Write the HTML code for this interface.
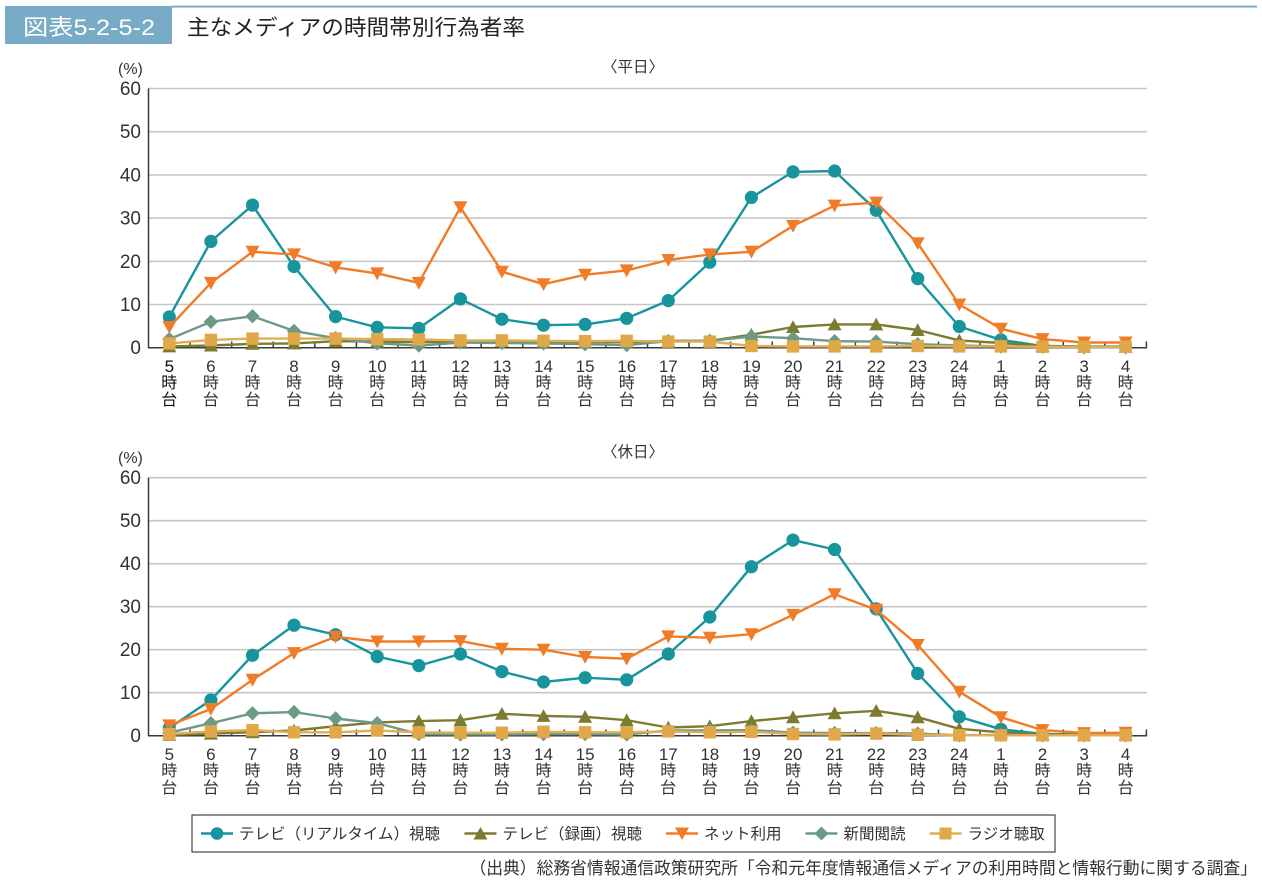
<!DOCTYPE html>
<html>
<head>
<meta charset="utf-8">
<style>
html,body{margin:0;padding:0;background:#fff;}
svg{display:block;}
text{font-family:"Liberation Sans","Noto Sans CJK JP",sans-serif;fill:#333;}
.yl{font-size:19px;text-anchor:end;}
.xl{font-size:17px;text-anchor:middle;}
.xl tspan.k{font-size:16px;}
.grid line{stroke:#c6c6c6;stroke-width:1.6;}
.ax{stroke:#3a3a3a;stroke-width:1.5;fill:none;}
.s{fill:none;stroke-width:2.4;stroke-linejoin:round;}
.tv{stroke:#17949c;marker-start:url(#mc);marker-mid:url(#mc);marker-end:url(#mc);}
.rec{stroke:#7d7b2f;marker-start:url(#mt);marker-mid:url(#mt);marker-end:url(#mt);}
.net{stroke:#f07c28;marker-start:url(#md);marker-mid:url(#md);marker-end:url(#md);}
.np{stroke:#6c9a84;marker-start:url(#mdi);marker-mid:url(#mdi);marker-end:url(#mdi);}
.rad{stroke:#e1ad55;marker-start:url(#ms);marker-mid:url(#ms);marker-end:url(#ms);}
.lg{font-size:15.5px;}
</style>
</head>
<body>
<svg width="1262" height="884" viewBox="0 0 1262 884" xmlns="http://www.w3.org/2000/svg">
<defs>
<marker id="mc" markerUnits="userSpaceOnUse" viewBox="-10 -10 20 20" markerWidth="20" markerHeight="20" refX="0" refY="0" overflow="visible"><circle cx="0" cy="0" r="6.6" fill="#17949c"/></marker>
<marker id="mt" markerUnits="userSpaceOnUse" viewBox="-10 -10 20 20" markerWidth="20" markerHeight="20" refX="0" refY="0" overflow="visible"><polygon points="0,-6.8 7,6 -7,6" fill="#7d7b2f"/></marker>
<marker id="md" markerUnits="userSpaceOnUse" viewBox="-10 -10 20 20" markerWidth="20" markerHeight="20" refX="0" refY="0" overflow="visible"><polygon points="0,6.8 7,-6 -7,-6" fill="#f07c28"/></marker>
<marker id="mdi" markerUnits="userSpaceOnUse" viewBox="-10 -10 20 20" markerWidth="20" markerHeight="20" refX="0" refY="0" overflow="visible"><polygon points="0,-7.2 7.2,0 0,7.2 -7.2,0" fill="#6c9a84"/></marker>
<marker id="ms" markerUnits="userSpaceOnUse" viewBox="-10 -10 20 20" markerWidth="20" markerHeight="20" refX="0" refY="0" overflow="visible"><rect x="-6.2" y="-6.2" width="12.4" height="12.4" fill="#e0a848"/></marker>
</defs>

<!-- Header -->
<rect x="5" y="6" width="167" height="38" fill="#78abc6"/>
<rect x="172" y="5.6" width="1085" height="2" fill="#7aaecb"/>
<text x="23" y="35" font-size="22" style="fill:#fff" textLength="132" lengthAdjust="spacingAndGlyphs">図表5-2-5-2</text>
<text x="187" y="35" font-size="21.5" style="fill:#222" textLength="338" lengthAdjust="spacingAndGlyphs">主なメディアの時間帯別行為者率</text>

<!-- ===== TOP CHART ===== -->
<text x="118" y="74" font-size="16">(%)</text>
<text x="633" y="72" font-size="15.5" text-anchor="middle">〈平日〉</text>
<g class="grid">
<line x1="148" y1="88.5" x2="1147" y2="88.5"/>
<line x1="148" y1="131.7" x2="1147" y2="131.7"/>
<line x1="148" y1="174.9" x2="1147" y2="174.9"/>
<line x1="148" y1="218.1" x2="1147" y2="218.1"/>
<line x1="148" y1="261.3" x2="1147" y2="261.3"/>
<line x1="148" y1="304.5" x2="1147" y2="304.5"/>
</g>
<g>
<text class="yl" x="141" y="95">60</text>
<text class="yl" x="141" y="138.2">50</text>
<text class="yl" x="141" y="181.4">40</text>
<text class="yl" x="141" y="224.6">30</text>
<text class="yl" x="141" y="267.8">20</text>
<text class="yl" x="141" y="311">10</text>
<text class="yl" x="141" y="354.2">0</text>
</g>
<path class="ax" d="M148.5,88.5 V348 M148,347.7 H1147"/>
<path class="ax" d="M190.1,341.5V348 M231.7,341.5V348 M273.2,341.5V348 M314.8,341.5V348 M356.4,341.5V348 M398,341.5V348 M439.6,341.5V348 M481.1,341.5V348 M522.7,341.5V348 M564.3,341.5V348 M605.9,341.5V348 M647.5,341.5V348 M689,341.5V348 M730.6,341.5V348 M772.2,341.5V348 M813.8,341.5V348 M855.4,341.5V348 M896.9,341.5V348 M938.5,341.5V348 M980.1,341.5V348 M1021.7,341.5V348 M1063.3,341.5V348 M1104.8,341.5V348 M1146.4,341.5V348"/>

<polyline class="s tv" points="169.3,317.0 210.9,241.4 252.5,205.1 294.0,266.5 335.6,316.6 377.2,327.4 418.8,328.3 460.4,298.9 501.9,319.2 543.5,325.2 585.1,324.4 626.7,318.3 668.3,300.6 709.8,262.2 751.4,197.4 793.0,171.9 834.6,171.0 876.2,210.3 917.7,278.6 959.3,326.5 1000.9,339.9 1042.5,346.0 1084.1,346.4 1125.6,346.4"/>
<polyline class="s rec" points="169.3,346.4 210.9,345.5 252.5,343.8 294.0,343.4 335.6,341.2 377.2,341.6 418.8,342.1 460.4,341.6 501.9,341.2 543.5,341.6 585.1,342.1 626.7,342.1 668.3,340.8 709.8,340.8 751.4,334.7 793.0,327.0 834.6,324.4 876.2,324.4 917.7,330.0 959.3,340.4 1000.9,343.0 1042.5,346.0 1084.1,346.8 1125.6,346.8"/>
<polyline class="s net" points="169.3,327.0 210.9,282.9 252.5,251.8 294.0,254.4 335.6,267.4 377.2,273.4 418.8,282.9 460.4,207.3 501.9,271.7 543.5,284.2 585.1,274.7 626.7,270.4 668.3,260.0 709.8,254.4 751.4,251.8 793.0,225.9 834.6,205.6 876.2,202.6 917.7,243.2 959.3,304.5 1000.9,328.7 1042.5,339.1 1084.1,342.5 1125.6,342.5"/>
<polyline class="s np" points="169.3,339.1 210.9,321.8 252.5,316.2 294.0,330.9 335.6,338.2 377.2,343.4 418.8,345.5 460.4,342.5 501.9,343.0 543.5,343.4 585.1,344.2 626.7,345.1 668.3,341.2 709.8,340.8 751.4,336.5 793.0,338.2 834.6,341.2 876.2,341.6 917.7,344.2 959.3,345.5 1000.9,346.4 1042.5,346.8 1084.1,347.3 1125.6,347.3"/>
<polyline class="s rad" points="169.3,343.4 210.9,339.9 252.5,338.6 294.0,338.6 335.6,338.6 377.2,339.1 418.8,339.5 460.4,340.4 501.9,340.4 543.5,340.8 585.1,341.2 626.7,340.8 668.3,341.6 709.8,341.6 751.4,346.0 793.0,346.4 834.6,346.4 876.2,346.4 917.7,346.0 959.3,346.4 1000.9,346.4 1042.5,346.8 1084.1,346.8 1125.6,346.8"/>

<g>
<text class="xl" x="169.3" y="372" style="fill:#111">5<tspan class="k" x="169.3" y="388">時</tspan><tspan class="k" x="169.3" y="405">台</tspan></text>
<text class="xl" x="210.9" y="372">6<tspan class="k" x="210.9" y="388">時</tspan><tspan class="k" x="210.9" y="405">台</tspan></text>
<text class="xl" x="252.5" y="372">7<tspan class="k" x="252.5" y="388">時</tspan><tspan class="k" x="252.5" y="405">台</tspan></text>
<text class="xl" x="294.0" y="372">8<tspan class="k" x="294.0" y="388">時</tspan><tspan class="k" x="294.0" y="405">台</tspan></text>
<text class="xl" x="335.6" y="372">9<tspan class="k" x="335.6" y="388">時</tspan><tspan class="k" x="335.6" y="405">台</tspan></text>
<text class="xl" x="377.2" y="372">10<tspan class="k" x="377.2" y="388">時</tspan><tspan class="k" x="377.2" y="405">台</tspan></text>
<text class="xl" x="418.8" y="372">11<tspan class="k" x="418.8" y="388">時</tspan><tspan class="k" x="418.8" y="405">台</tspan></text>
<text class="xl" x="460.4" y="372">12<tspan class="k" x="460.4" y="388">時</tspan><tspan class="k" x="460.4" y="405">台</tspan></text>
<text class="xl" x="501.9" y="372">13<tspan class="k" x="501.9" y="388">時</tspan><tspan class="k" x="501.9" y="405">台</tspan></text>
<text class="xl" x="543.5" y="372">14<tspan class="k" x="543.5" y="388">時</tspan><tspan class="k" x="543.5" y="405">台</tspan></text>
<text class="xl" x="585.1" y="372">15<tspan class="k" x="585.1" y="388">時</tspan><tspan class="k" x="585.1" y="405">台</tspan></text>
<text class="xl" x="626.7" y="372">16<tspan class="k" x="626.7" y="388">時</tspan><tspan class="k" x="626.7" y="405">台</tspan></text>
<text class="xl" x="668.3" y="372">17<tspan class="k" x="668.3" y="388">時</tspan><tspan class="k" x="668.3" y="405">台</tspan></text>
<text class="xl" x="709.8" y="372">18<tspan class="k" x="709.8" y="388">時</tspan><tspan class="k" x="709.8" y="405">台</tspan></text>
<text class="xl" x="751.4" y="372">19<tspan class="k" x="751.4" y="388">時</tspan><tspan class="k" x="751.4" y="405">台</tspan></text>
<text class="xl" x="793.0" y="372">20<tspan class="k" x="793.0" y="388">時</tspan><tspan class="k" x="793.0" y="405">台</tspan></text>
<text class="xl" x="834.6" y="372">21<tspan class="k" x="834.6" y="388">時</tspan><tspan class="k" x="834.6" y="405">台</tspan></text>
<text class="xl" x="876.2" y="372">22<tspan class="k" x="876.2" y="388">時</tspan><tspan class="k" x="876.2" y="405">台</tspan></text>
<text class="xl" x="917.7" y="372">23<tspan class="k" x="917.7" y="388">時</tspan><tspan class="k" x="917.7" y="405">台</tspan></text>
<text class="xl" x="959.3" y="372">24<tspan class="k" x="959.3" y="388">時</tspan><tspan class="k" x="959.3" y="405">台</tspan></text>
<text class="xl" x="1000.9" y="372">1<tspan class="k" x="1000.9" y="388">時</tspan><tspan class="k" x="1000.9" y="405">台</tspan></text>
<text class="xl" x="1042.5" y="372">2<tspan class="k" x="1042.5" y="388">時</tspan><tspan class="k" x="1042.5" y="405">台</tspan></text>
<text class="xl" x="1084.1" y="372">3<tspan class="k" x="1084.1" y="388">時</tspan><tspan class="k" x="1084.1" y="405">台</tspan></text>
<text class="xl" x="1125.6" y="372">4<tspan class="k" x="1125.6" y="388">時</tspan><tspan class="k" x="1125.6" y="405">台</tspan></text>
</g>

<!-- ===== BOTTOM CHART ===== -->
<text x="118" y="463" font-size="16">(%)</text>
<text x="633" y="457" font-size="15.5" text-anchor="middle">〈休日〉</text>
<g class="grid">
<line x1="148" y1="477.7" x2="1147" y2="477.7"/>
<line x1="148" y1="520.7" x2="1147" y2="520.7"/>
<line x1="148" y1="563.7" x2="1147" y2="563.7"/>
<line x1="148" y1="606.7" x2="1147" y2="606.7"/>
<line x1="148" y1="649.7" x2="1147" y2="649.7"/>
<line x1="148" y1="692.7" x2="1147" y2="692.7"/>
</g>
<g>
<text class="yl" x="141" y="484.2">60</text>
<text class="yl" x="141" y="527.2">50</text>
<text class="yl" x="141" y="570.2">40</text>
<text class="yl" x="141" y="613.2">30</text>
<text class="yl" x="141" y="656.2">20</text>
<text class="yl" x="141" y="699.2">10</text>
<text class="yl" x="141" y="742.2">0</text>
</g>
<path class="ax" d="M148.5,477.7 V736 M148,735.7 H1147"/>
<path class="ax" d="M190.1,729.5V736 M231.7,729.5V736 M273.2,729.5V736 M314.8,729.5V736 M356.4,729.5V736 M398,729.5V736 M439.6,729.5V736 M481.1,729.5V736 M522.7,729.5V736 M564.3,729.5V736 M605.9,729.5V736 M647.5,729.5V736 M689,729.5V736 M730.6,729.5V736 M772.2,729.5V736 M813.8,729.5V736 M855.4,729.5V736 M896.9,729.5V736 M938.5,729.5V736 M980.1,729.5V736 M1021.7,729.5V736 M1063.3,729.5V736 M1104.8,729.5V736 M1146.4,729.5V736"/>

<polyline class="s tv" points="169.3,728.0 210.9,700.0 252.5,655.3 294.0,625.2 335.6,634.7 377.2,656.6 418.8,665.6 460.4,654.0 501.9,671.6 543.5,682.0 585.1,677.7 626.7,679.8 668.3,654.0 709.8,617.0 751.4,566.7 793.0,540.1 834.6,549.5 876.2,608.9 917.7,673.4 959.3,716.8 1000.9,729.3 1042.5,734.0 1084.1,734.4 1125.6,734.4"/>
<polyline class="s rec" points="169.3,734.8 210.9,733.6 252.5,732.3 294.0,730.5 335.6,726.2 377.2,722.4 418.8,721.1 460.4,720.2 501.9,713.8 543.5,715.9 585.1,716.8 626.7,720.2 668.3,727.5 709.8,726.2 751.4,721.1 793.0,717.2 834.6,713.3 876.2,710.8 917.7,717.2 959.3,728.8 1000.9,732.3 1042.5,734.4 1084.1,734.8 1125.6,734.8"/>
<polyline class="s net" points="169.3,725.4 210.9,709.0 252.5,679.8 294.0,653.1 335.6,636.8 377.2,641.5 418.8,641.5 460.4,641.1 501.9,648.8 543.5,649.7 585.1,657.0 626.7,658.7 668.3,636.4 709.8,637.7 751.4,634.2 793.0,614.9 834.6,594.2 876.2,609.7 917.7,645.0 959.3,691.8 1000.9,717.2 1042.5,730.1 1084.1,733.1 1125.6,732.7"/>
<polyline class="s np" points="169.3,732.7 210.9,723.2 252.5,713.3 294.0,712.1 335.6,718.5 377.2,723.2 418.8,734.0 460.4,734.4 501.9,734.4 543.5,734.0 585.1,734.0 626.7,734.4 668.3,730.5 709.8,730.5 751.4,730.1 793.0,732.7 834.6,733.1 876.2,733.1 917.7,733.6 959.3,735.3 1000.9,734.8 1042.5,735.3 1084.1,735.3 1125.6,735.3"/>
<polyline class="s rad" points="169.3,734.0 210.9,731.4 252.5,730.1 294.0,732.3 335.6,732.3 377.2,730.5 418.8,732.3 460.4,732.7 501.9,732.7 543.5,731.8 585.1,732.3 626.7,732.3 668.3,731.4 709.8,732.3 751.4,731.8 793.0,734.0 834.6,734.4 876.2,733.6 917.7,734.8 959.3,735.3 1000.9,735.3 1042.5,735.3 1084.1,735.3 1125.6,735.3"/>

<g>
<text class="xl" x="169.3" y="760">5<tspan class="k" x="169.3" y="776">時</tspan><tspan class="k" x="169.3" y="793">台</tspan></text>
<text class="xl" x="210.9" y="760">6<tspan class="k" x="210.9" y="776">時</tspan><tspan class="k" x="210.9" y="793">台</tspan></text>
<text class="xl" x="252.5" y="760">7<tspan class="k" x="252.5" y="776">時</tspan><tspan class="k" x="252.5" y="793">台</tspan></text>
<text class="xl" x="294.0" y="760">8<tspan class="k" x="294.0" y="776">時</tspan><tspan class="k" x="294.0" y="793">台</tspan></text>
<text class="xl" x="335.6" y="760">9<tspan class="k" x="335.6" y="776">時</tspan><tspan class="k" x="335.6" y="793">台</tspan></text>
<text class="xl" x="377.2" y="760">10<tspan class="k" x="377.2" y="776">時</tspan><tspan class="k" x="377.2" y="793">台</tspan></text>
<text class="xl" x="418.8" y="760">11<tspan class="k" x="418.8" y="776">時</tspan><tspan class="k" x="418.8" y="793">台</tspan></text>
<text class="xl" x="460.4" y="760">12<tspan class="k" x="460.4" y="776">時</tspan><tspan class="k" x="460.4" y="793">台</tspan></text>
<text class="xl" x="501.9" y="760">13<tspan class="k" x="501.9" y="776">時</tspan><tspan class="k" x="501.9" y="793">台</tspan></text>
<text class="xl" x="543.5" y="760">14<tspan class="k" x="543.5" y="776">時</tspan><tspan class="k" x="543.5" y="793">台</tspan></text>
<text class="xl" x="585.1" y="760">15<tspan class="k" x="585.1" y="776">時</tspan><tspan class="k" x="585.1" y="793">台</tspan></text>
<text class="xl" x="626.7" y="760">16<tspan class="k" x="626.7" y="776">時</tspan><tspan class="k" x="626.7" y="793">台</tspan></text>
<text class="xl" x="668.3" y="760">17<tspan class="k" x="668.3" y="776">時</tspan><tspan class="k" x="668.3" y="793">台</tspan></text>
<text class="xl" x="709.8" y="760">18<tspan class="k" x="709.8" y="776">時</tspan><tspan class="k" x="709.8" y="793">台</tspan></text>
<text class="xl" x="751.4" y="760">19<tspan class="k" x="751.4" y="776">時</tspan><tspan class="k" x="751.4" y="793">台</tspan></text>
<text class="xl" x="793.0" y="760">20<tspan class="k" x="793.0" y="776">時</tspan><tspan class="k" x="793.0" y="793">台</tspan></text>
<text class="xl" x="834.6" y="760">21<tspan class="k" x="834.6" y="776">時</tspan><tspan class="k" x="834.6" y="793">台</tspan></text>
<text class="xl" x="876.2" y="760">22<tspan class="k" x="876.2" y="776">時</tspan><tspan class="k" x="876.2" y="793">台</tspan></text>
<text class="xl" x="917.7" y="760">23<tspan class="k" x="917.7" y="776">時</tspan><tspan class="k" x="917.7" y="793">台</tspan></text>
<text class="xl" x="959.3" y="760">24<tspan class="k" x="959.3" y="776">時</tspan><tspan class="k" x="959.3" y="793">台</tspan></text>
<text class="xl" x="1000.9" y="760">1<tspan class="k" x="1000.9" y="776">時</tspan><tspan class="k" x="1000.9" y="793">台</tspan></text>
<text class="xl" x="1042.5" y="760">2<tspan class="k" x="1042.5" y="776">時</tspan><tspan class="k" x="1042.5" y="793">台</tspan></text>
<text class="xl" x="1084.1" y="760">3<tspan class="k" x="1084.1" y="776">時</tspan><tspan class="k" x="1084.1" y="793">台</tspan></text>
<text class="xl" x="1125.6" y="760">4<tspan class="k" x="1125.6" y="776">時</tspan><tspan class="k" x="1125.6" y="793">台</tspan></text>
</g>

<!-- ===== LEGEND ===== -->
<rect x="192" y="815" width="863" height="37" fill="#fff" stroke="#444" stroke-width="1.2"/>
<line x1="201" y1="833.5" x2="233" y2="833.5" stroke="#17949c" stroke-width="2.4"/>
<circle cx="217" cy="833.5" r="6.3" fill="#17949c"/>
<text class="lg" x="239" y="839">テレビ（リアルタイム）視聴</text>

<line x1="464.5" y1="833.5" x2="496.5" y2="833.5" stroke="#7d7b2f" stroke-width="2.4"/>
<polygon points="480.5,827 487.5,839.5 473.5,839.5" fill="#7d7b2f"/>
<text class="lg" x="502.5" y="839">テレビ（録画）視聴</text>

<line x1="666" y1="833.5" x2="698" y2="833.5" stroke="#f07c28" stroke-width="2.4"/>
<polygon points="682,840 689,827.5 675,827.5" fill="#f07c28"/>
<text class="lg" x="704" y="839">ネット利用</text>

<line x1="805.5" y1="833.5" x2="837.5" y2="833.5" stroke="#6c9a84" stroke-width="2.4"/>
<polygon points="821.5,826.5 828.5,833.5 821.5,840.5 814.5,833.5" fill="#6c9a84"/>
<text class="lg" x="843.5" y="839">新聞閲読</text>

<line x1="929.5" y1="833.5" x2="961.5" y2="833.5" stroke="#e1ad55" stroke-width="2.4"/>
<rect x="939.5" y="827.5" width="12" height="12" fill="#e0a848"/>
<text class="lg" x="967.5" y="839">ラジオ聴取</text>

<!-- Source -->
<text x="1257" y="874" font-size="16.8" text-anchor="end">（出典）総務省情報通信政策研究所「令和元年度情報通信メディアの利用時間と情報行動に関する調査」</text>
</svg>
</body>
</html>
